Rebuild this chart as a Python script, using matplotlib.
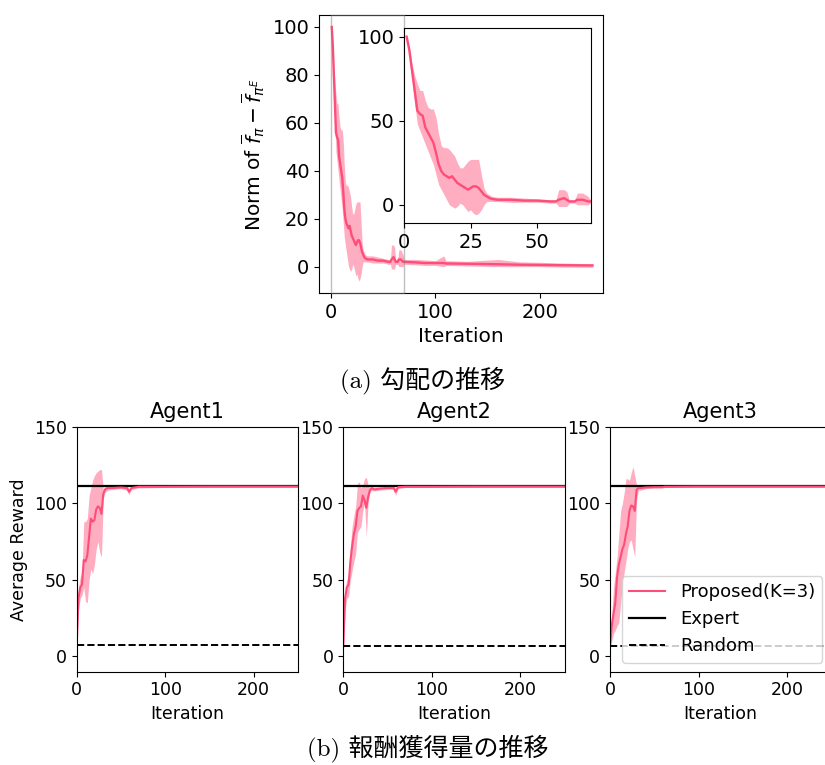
import matplotlib
matplotlib.use("Agg")
import matplotlib.pyplot as plt
import numpy as np

# ---------------- data ----------------
# (a) gradient norm
grad_iter = [1, 2, 3, 4, 5, 6, 7, 8, 9, 10, 11, 12, 13, 14, 15, 16, 17, 18, 19, 20,
             21, 22, 23, 24, 25, 26, 27, 28, 29, 30, 31, 32, 33, 35, 40, 45, 50, 55,
             57, 58, 60, 61, 62, 64, 65, 67, 69, 70, 80, 90, 100, 108, 110, 130, 160,
             180, 200, 220, 250]
grad_mean = [100, 92, 80, 68, 56, 54, 53, 46, 43, 40, 37, 31, 24, 20, 18, 17, 16, 17, 15, 13,
             12, 11, 10, 9, 10, 11, 11, 10, 8, 6, 5, 4, 3.5, 3, 3, 2.5, 2.5, 2,
             2, 3, 4, 3, 2, 2, 3, 3, 2, 2, 1.8, 1.5, 1.5, 1.5, 1.3, 1.2, 1.0,
             0.8, 0.7, 0.6, 0.5]
grad_low = [100, 90, 74, 60, 48, 44, 40, 36, 32, 28, 24, 18, 12, 9, 6, 3, 0, -1, -2, -1,
            1, 0, -2, -4, -3, -5, -6, -5, -3, 0, 2, 2, 2, 2, 1.5, 1.5, 1.5, 1,
            1, -1, -1, -1, 1, 1, 0, 0, 0, 1, 0.8, 0.5, 0.5, 0, 0.5, 0.3, 0,
            0, 0, -0.2, -0.3]
grad_high = [100, 94, 84, 77, 72, 68, 68, 62, 58, 57, 57, 52, 42, 35, 34, 34, 33, 31, 29, 25,
             22, 22, 24, 26, 27, 27, 27, 27, 18, 10, 7, 6, 5, 4.5, 4.5, 4, 3.5, 3,
             3, 9, 9, 8, 3, 3, 7, 7, 5, 3, 3, 2.8, 2.5, 4.5, 2.5, 2.2, 3,
             2, 1.8, 1.5, 1.2]

# (b) average reward per agent
agents = ["Agent1", "Agent2", "Agent3"]
reward_iter = [0, 2, 4, 6, 8, 10, 12, 14, 16, 18, 20, 22, 24, 26, 28, 30, 32, 35, 40, 50,
               57, 59, 62, 70, 100, 150, 200, 250]
agent1_mean = [7.6, 38, 45, 47, 63, 62, 66, 78, 90, 88, 89, 96, 98, 97, 93, 106, 109, 110, 110, 110.3,
               110, 107.5, 110, 110.8, 110.8, 110.9, 110.9, 110.9]
agent1_low = [7.6, 30, 38, 40, 45, 36, 35, 50, 57, 54, 60, 70, 75, 68, 65, 103, 107, 108.5, 109, 109.5,
              108.5, 105.5, 109, 110, 110.3, 110.3, 110.4, 110.4]
agent1_high = [7.6, 45, 52, 56, 88, 88, 90, 105, 110, 115, 118, 120, 121, 122, 122, 109, 111, 111.5, 111.5, 111.5,
               111, 109.5, 111, 111.5, 111.3, 111.3, 111.3, 111.3]
agent2_mean = [6.5, 38, 45, 47, 62, 72, 80, 85, 95, 97, 98, 105, 102, 97, 104, 108.5, 110, 109, 109.5, 110,
               110, 107.5, 110.5, 110.8, 110.8, 110.9, 110.9, 110.9]
agent2_low = [6.5, 30, 38, 39, 50, 56, 62, 67, 81, 83, 85, 95, 100, 78, 100, 107, 108.5, 108, 108.5, 109,
              109, 105, 109.5, 110.3, 110.3, 110.3, 110.4, 110.4]
agent2_high = [6.5, 45, 50, 52, 72, 85, 92, 98, 113, 114, 110, 112, 116, 117, 112, 110, 111, 110.5, 110.5, 111,
               111, 110, 111.5, 111.3, 111.3, 111.3, 111.3, 111.3]
agent3_mean = [6.5, 20, 28, 35, 52, 60, 65, 70, 73, 80, 85, 95, 98.6, 98, 95, 108.7, 110, 110, 110.3, 110.5,
               110.5, 110.5, 110.8, 110.8, 110.9, 110.9, 110.9, 110.9]
agent3_low = [6.5, 10, 15, 17, 20, 22, 35, 46, 55, 62, 70, 75, 76, 70, 65, 102, 108.5, 108.5, 109.5, 110,
              110, 110, 110.3, 110.3, 110.4, 110.4, 110.4, 110.4]
agent3_high = [6.5, 28, 45, 55, 65, 80, 95, 100, 107, 116, 116, 115, 120, 124, 118, 112, 111.5, 111.5, 111.5, 111.2,
               111.2, 111.2, 111.3, 111.3, 111.3, 111.3, 111.3, 111.3]
expert_reward = [111.3, 111.3, 111.3]
random_reward = [7.5, 6.5, 6.5]

caption_a = "(a) 勾配の推移"
caption_b = "(b) 報酬獲得量の推移"

# ---------------- style ----------------
LINE = "#ff4d79"
W, H = 825, 765
fig = plt.figure(figsize=(W / 100, H / 100), dpi=100)
fig.patch.set_facecolor("white")


def rect(l, t, r, b):
    return [l / W, 1 - b / H, (r - l) / W, (b - t) / H]


# ---------------- (a) ----------------
ax = fig.add_axes(rect(319, 15, 603, 293))
ax.fill_between(grad_iter, grad_low, grad_high, color=LINE, alpha=0.45, lw=0)
ax.plot(grad_iter, grad_mean, color=LINE, lw=1.7)
ax.set_xlim(-11.2, 260)
ax.set_ylim(-11, 105)
ax.set_xticks([0, 100, 200])
ax.set_yticks([0, 20, 40, 60, 80, 100])
ax.tick_params(labelsize=14)
ax.set_xlabel("Iteration", fontsize=14.5)
ax.set_ylabel(r"Norm of $\overline{f}_{\pi} - \overline{f}_{\pi^E}$", fontsize=14.5)

axins = ax.inset_axes([(404 - 319) / 284, (293 - 223.3) / 278,
                       (590.7 - 404) / 284, (223.3 - 28.3) / 278])
axins.fill_between(grad_iter, grad_low, grad_high, color=LINE, alpha=0.45, lw=0)
axins.plot(grad_iter, grad_mean, color=LINE, lw=1.7)
axins.set_xlim(0, 70)
axins.set_ylim(-11, 105)
axins.set_xticks([0, 25, 50])
axins.set_yticks([0, 50, 100])
axins.tick_params(labelsize=14)
ax.indicate_inset_zoom(axins, edgecolor="gray")

fig.text(423 / W, 1 - 380 / H, caption_a, ha="center", va="center", fontsize=18,
         family=["cmr10", "Noto Sans CJK JP"])

# ---------------- (b) ----------------
means = [agent1_mean, agent2_mean, agent3_mean]
lows = [agent1_low, agent2_low, agent3_low]
highs = [agent1_high, agent2_high, agent3_high]
lefts = [76.7, 343.3, 610]
for i, name in enumerate(agents):
    a = fig.add_axes(rect(lefts[i], 426.7, lefts[i] + 221.3, 671.7))
    a.fill_between(reward_iter, lows[i], highs[i], color=LINE, alpha=0.45, lw=0)
    a.plot(reward_iter, means[i], color=LINE, lw=1.5, label="Proposed(K=3)")
    a.axhline(expert_reward[i], color="black", lw=1.6, label="Expert", zorder=1)
    a.axhline(random_reward[i], color="black", lw=1.4, ls="--", label="Random")
    a.set_xlim(0, 250)
    a.set_ylim(-10, 150)
    a.set_xticks([0, 100, 200])
    a.set_yticks([0, 50, 100, 150])
    a.tick_params(labelsize=12.5)
    a.set_title(name, fontsize=15)
    a.set_xlabel("Iteration", fontsize=12.5)
    if i == 0:
        a.set_ylabel("Average Reward", fontsize=12.5)
    if i == 2:
        a.legend(loc="lower right", fontsize=13)

fig.text(428 / W, 1 - 748 / H, caption_b, ha="center", va="center", fontsize=18,
         family=["cmr10", "Noto Sans CJK JP"])

fig.savefig("out.png", dpi=100)
